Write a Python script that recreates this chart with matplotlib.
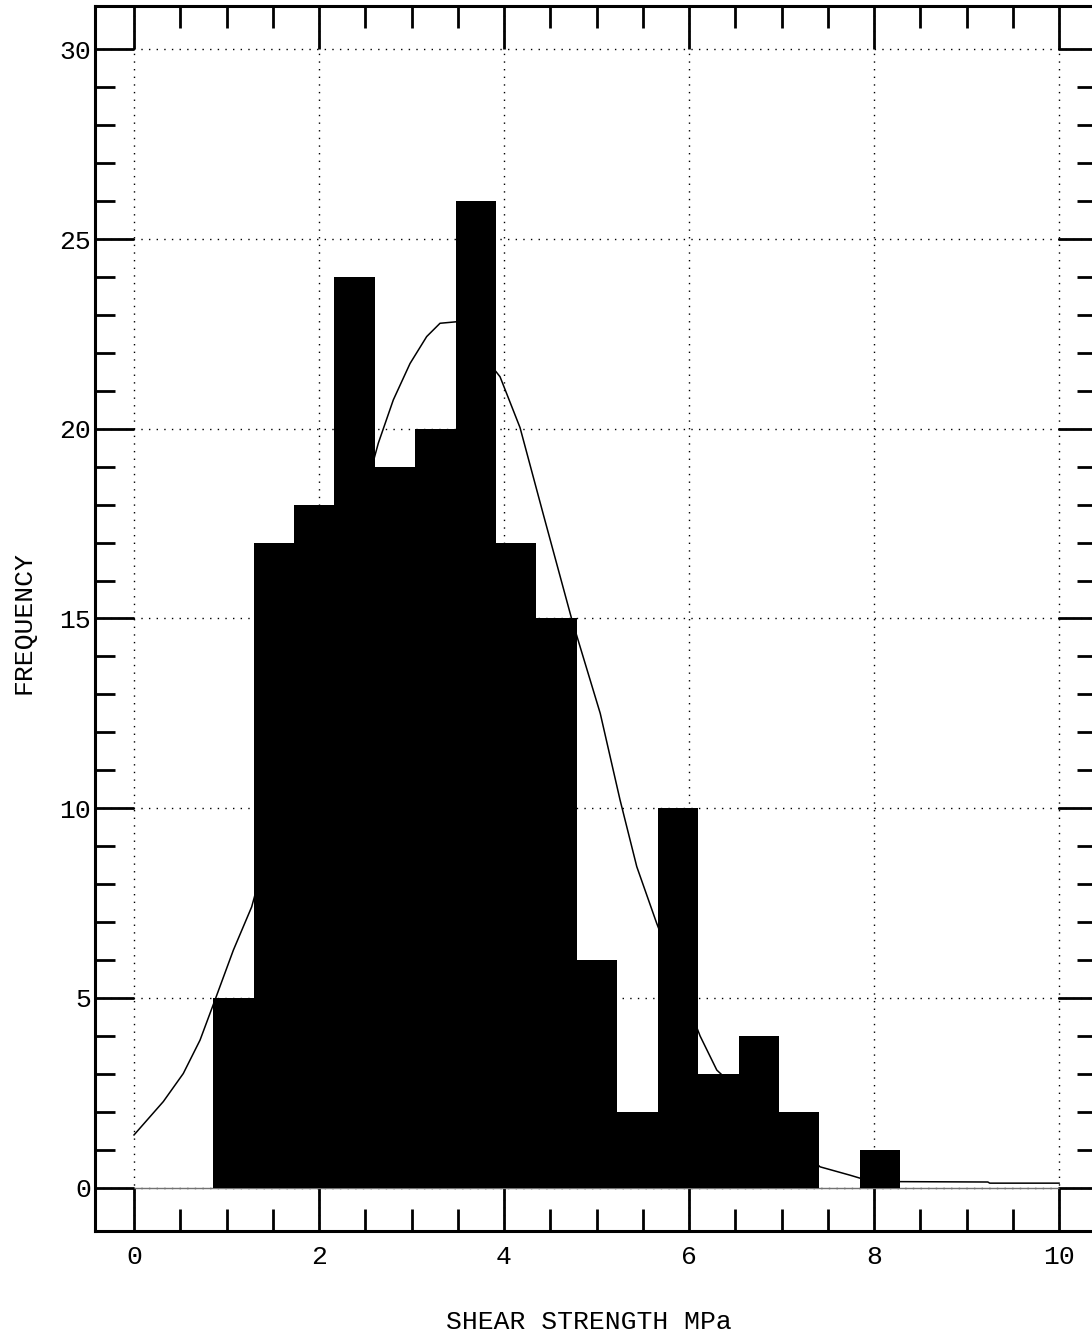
import matplotlib
matplotlib.use("Agg")
import matplotlib.pyplot as plt
from matplotlib.ticker import FixedLocator

# Histogram of shear strength: equal-width classes starting at bin_start
bin_start = 0.855
bin_width = 0.437
counts = [5, 17, 18, 24, 19, 20, 26, 17, 15, 6, 2, 10, 3, 4, 2, 0, 1]

# Fitted frequency curve (visible portions)
curve_x = [0.0, 0.317, 0.533, 0.714, 0.876, 1.074, 1.272, 2.641, 2.803, 2.984,
           3.164, 3.308, 3.488, 3.957, 4.173, 4.425, 4.73, 5.04, 5.254, 5.435,
           5.65, 6.119, 6.30, 7.416, 7.74, 7.85, 8.28, 9.23, 9.25, 10.0]
curve_y = [1.39, 2.27, 3.01, 3.89, 4.95, 6.26, 7.40, 19.62, 20.76, 21.72,
           22.43, 22.78, 22.82, 21.37, 20.03, 17.74, 15.0, 12.5, 10.22, 8.46,
           6.97, 4.0, 3.10, 0.55, 0.33, 0.25, 0.16, 0.15, 0.12, 0.12]

x_ticks = [0, 2, 4, 6, 8, 10]
y_ticks = [0, 5, 10, 15, 20, 25, 30]
x_minor = [0.5, 1, 1.5, 2.5, 3, 3.5, 4.5, 5, 5.5, 6.5, 7, 7.5, 8.5, 9, 9.5]
y_minor = [v for v in range(0, 31) if v % 5 != 0]

FONT = "Liberation Mono"
FS = 19

fig = plt.figure(figsize=(10.92, 13.39), dpi=100)
ax = fig.add_axes([95 / 1092, 108 / 1339, 1002 / 1092, 1225 / 1339])

edges = [bin_start + i * bin_width for i in range(len(counts))]
ax.bar(edges, counts, width=bin_width, align="edge", color="black",
       linewidth=0, zorder=2)
ax.hlines(0, 0, 10, color="0.45", linewidth=1.0, zorder=1.5)
ax.plot(curve_x, curve_y, color="black", linewidth=1.1, zorder=3)

ax.set_xlim(-0.4216, 10.41)
ax.set_ylim(-1.141, 31.141)

ax.set_xticks(x_ticks)
ax.set_yticks(y_ticks)
ax.xaxis.set_minor_locator(FixedLocator(x_minor))
ax.yaxis.set_minor_locator(FixedLocator(y_minor))
ax.set_xticklabels([str(v) for v in x_ticks], fontsize=FS, family=FONT)
ax.set_yticklabels([str(v) for v in y_ticks], fontsize=FS, family=FONT)

ax.set_axisbelow(True)
ax.grid(True, which="major", color="black", linestyle=(0, (1, 4.5)),
        linewidth=1.0)

ax.tick_params(which="both", direction="in", top=True, right=True,
               width=2.0, color="black")
ax.tick_params(axis="x", which="major", length=31.2, pad=10)
ax.tick_params(axis="y", which="major", length=28.1, pad=3)
ax.tick_params(axis="x", which="minor", length=15.8)
ax.tick_params(axis="y", which="minor", length=14.4)

for sp in ax.spines.values():
    sp.set_linewidth(2.2)

ax.set_xlabel("SHEAR STRENGTH MPa", fontsize=FS, family=FONT, va="center")
ax.xaxis.set_label_coords(0.493, -0.0743)
ax.set_ylabel("FREQUENCY", fontsize=FS, family=FONT, va="center")
ax.yaxis.set_label_coords(-0.0709, 0.497)

fig.savefig("out.png", dpi=100)
